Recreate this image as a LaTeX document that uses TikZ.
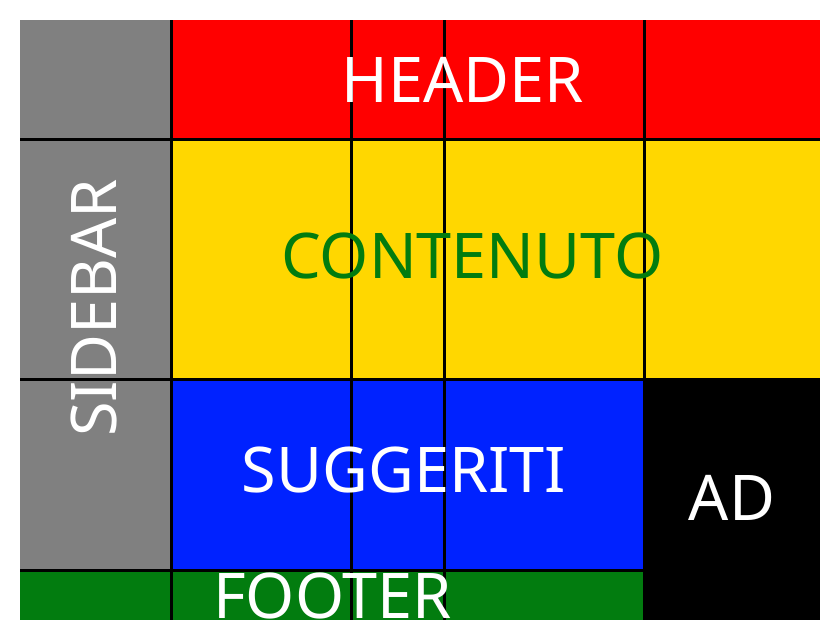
\documentclass[tikz,border=0pt]{standalone}
\usepackage{fontspec}
\setmainfont{Noto Sans}
\definecolor{hdrred}{HTML}{FF0000}
\definecolor{mainyel}{HTML}{FFD700}
\definecolor{sugblue}{HTML}{0022FF}
\definecolor{sidegray}{HTML}{808080}
\definecolor{footgreen}{HTML}{027C0F}

\begin{document}
\begin{tikzpicture}[x=1pt,y=-1pt,
 lbl/.style={inner sep=0pt,font=\fontsize{63}{63}\selectfont,text=white},
 gridline/.style={line width=3pt,draw=black}]
\useasboundingbox (0,0) rectangle (840,640);
\begin{scope}
\clip (20,20) rectangle (820,620);
% grid areas
\fill[sidegray] (20,20) rectangle (171.5,570.5);
\fill[hdrred] (171.5,20) rectangle (820,139);
\fill[mainyel] (171.5,139) rectangle (820,379);
\fill[sugblue] (171.5,379) rectangle (644.5,570.5);
\fill[black] (644.5,379) rectangle (820,620);
\fill[footgreen] (20,570.5) rectangle (644.5,620);
% track lines
\foreach \gx in {171.5,351.5,444.5,644.5}
  \draw[gridline] (\gx,20) -- (\gx,620);
\draw[gridline] (20,139) -- (820,139);
\draw[gridline] (20,379) -- (820,379);
\draw[gridline] (20,570.5) -- (644.5,570.5);
% labels
\node[lbl] (header) at (463,79.5) {HEADER};
\node[lbl,text=footgreen] (contenuto) at (472.5,255.5) {CONTENUTO};
\node[lbl] (suggeriti) at (404,470.5) {SUGGERITI};
\node[lbl] (ad) at (732,497.5) {AD};
\node[lbl] (footer) at (332.5,595.5) {FOOTER};
\node[lbl,rotate=90] (sidebar) at (94,308) {SIDEBAR};
\end{scope}
\end{tikzpicture}
\end{document}
